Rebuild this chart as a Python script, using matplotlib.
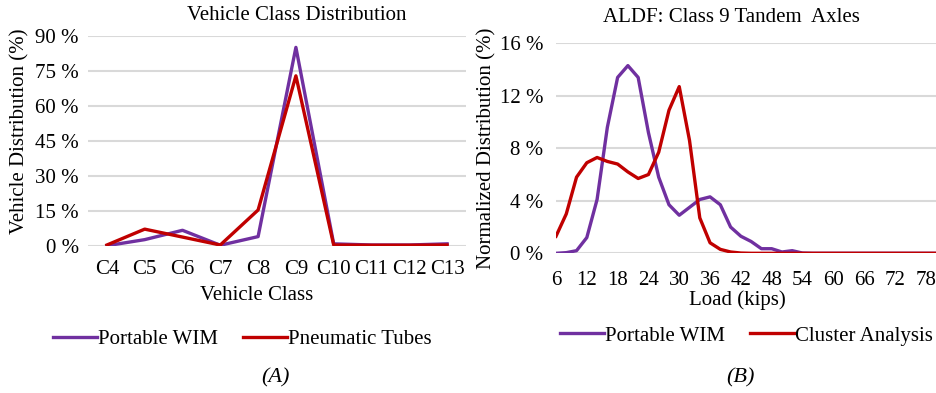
import matplotlib
matplotlib.use("Agg")
from matplotlib import pyplot as plt

plt.rcParams['font.family'] = ['Liberation Serif', 'DejaVu Serif']

# panel A: vehicle class distribution (%)
classes = ["C4", "C5", "C6", "C7", "C8", "C9", "C10", "C11", "C12", "C13"]
wim_class = [0.0, 2.6, 6.6, 0.2, 3.9, 85.0, 0.8, 0.3, 0.3, 0.8]
tubes_class = [0.3, 7.1, 3.7, 0.3, 15.3, 72.8, 0.3, 0.2, 0.2, 0.3]

# panel B: ALDF, class 9 tandem axles (%)
loads = list(range(6, 82, 2))
wim_aldf = [0.0, 0.05, 0.2, 1.2, 4.1, 9.6, 13.4, 14.3, 13.4, 9.2, 5.8, 3.7, 2.9,
            3.5, 4.1, 4.3, 3.7, 2.0, 1.3, 0.9, 0.35, 0.35, 0.1, 0.2, 0.02,
            0, 0, 0, 0, 0, 0, 0, 0, 0, 0, 0, 0, 0]
cluster_aldf = [1.3, 3.0, 5.8, 6.9, 7.3, 7.0, 6.8, 6.2, 5.7, 6.0, 7.7, 10.9, 12.7,
                8.6, 2.7, 0.8, 0.3, 0.1, 0.02, 0, 0, 0, 0, 0, 0,
                0, 0, 0, 0, 0, 0, 0, 0, 0, 0, 0, 0, 0]
load_ticks = list(range(6, 80, 6))

purple = "#7030A0"
red = "#C00000"
grid = "#D9D9D9"
FS = 15

fig = plt.figure(figsize=(9.36, 3.93), dpi=100)
W, H = 936.0, 393.0

def px(x, y):
    # pixel position (from top-left) -> figure fraction
    return x / W, 1 - y / H

def style(ax):
    for s in ax.spines.values():
        s.set_visible(False)
    ax.tick_params(length=0, labelsize=FS)
    ax.yaxis.grid(True, color=grid, linewidth=1.5)
    ax.set_axisbelow(True)

def legend(ax, x, y):
    ax.legend(loc="center left", bbox_to_anchor=px(x, y), bbox_transform=fig.transFigure,
              ncol=2, frameon=False, fontsize=FS, borderaxespad=0, borderpad=0,
              handlelength=2.1, handletextpad=0.05, columnspacing=1.2)

# ---- panel A
ax1 = fig.add_axes([88 / W, (H - 245.7) / H, 378 / W, 210 / H])
style(ax1)
x = range(len(classes))
ax1.plot(x, wim_class, color=purple, linewidth=2.4, label="Portable WIM")
ax1.plot(x, tubes_class, color=red, linewidth=2.4, label="Pneumatic Tubes")
ax1.set_xlim(-0.5, len(classes) - 0.5)
ax1.set_ylim(0, 90)
ax1.set_yticks(range(0, 91, 15))
ax1.set_yticklabels([f"{v} %" for v in range(0, 91, 15)])
ax1.set_xticks(list(x))
ax1.set_xticklabels(classes)
ax1.tick_params(axis="x", pad=10)
ax1.tick_params(axis="y", pad=6.5)
fig.text(*px(297, 16), "Vehicle Class Distribution", fontsize=FS, ha="center", va="center")
fig.text(*px(257, 295), "Vehicle Class", fontsize=FS, ha="center", va="center")
fig.text(*px(20, 131), "Vehicle Distribution (%)", fontsize=FS, ha="center", va="center",
         rotation=90)
legend(ax1, 53, 339)
fig.text(*px(275, 378), "(A)", style="italic", fontsize=16, ha="center", va="center")

# ---- panel B
ax2 = fig.add_axes([556 / W, (H - 253.3) / H, 380 / W, 210 / H])
style(ax2)
ax2.plot(loads, wim_aldf, color=purple, linewidth=2.4, label="Portable WIM")
ax2.plot(loads, cluster_aldf, color=red, linewidth=2.4, label="Cluster Analysis")
ax2.set_xlim(6, 80)
ax2.set_ylim(0, 16)
ax2.set_yticks(range(0, 17, 4))
ax2.set_yticklabels([f"{v} %" for v in range(0, 17, 4)])
ax2.set_xticks(load_ticks)
ax2.tick_params(axis="x", pad=12.5)
ax2.tick_params(axis="y", pad=9)
fig.text(*px(731, 17), "ALDF: Class 9 Tandem  Axles", fontsize=FS, ha="center", va="center")
fig.text(*px(737, 300), "Load (kips)", fontsize=FS, ha="center", va="center")
fig.text(*px(487, 148), "Normalized Distribution (%)", fontsize=FS, ha="center", va="center",
         rotation=90)
legend(ax2, 560, 336)
fig.text(*px(740, 378), "(B)", style="italic", fontsize=16, ha="center", va="center")

fig.savefig("out.png", dpi=100)
